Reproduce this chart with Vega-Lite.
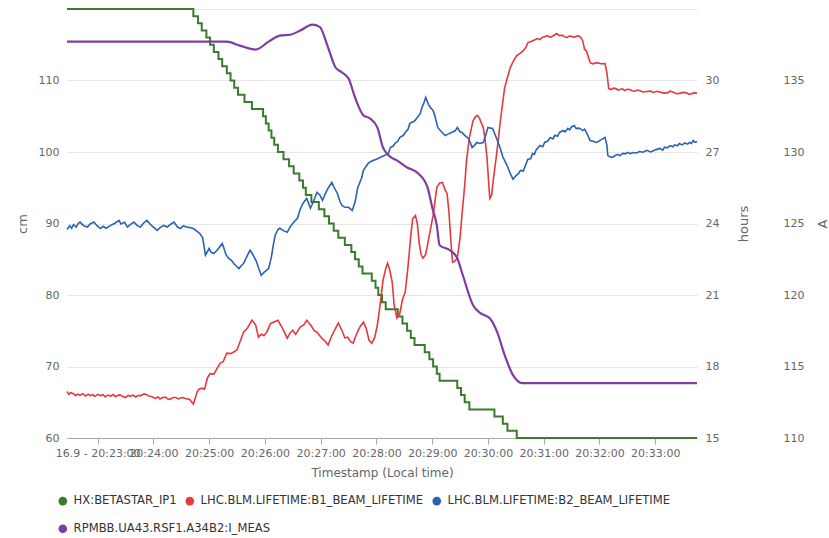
{
  "$schema": "https://vega.github.io/schema/vega-lite/v6.json",
  "width": 630,
  "height": 429,
  "autosize": {"type": "none"},
  "padding": {"left": 67, "top": 9, "right": 132, "bottom": 100},
  "background": "white",
  "config": {
    "view": {"stroke": null},
    "font": "DejaVu Sans",
    "axis": {
      "labelFont": "DejaVu Sans",
      "labelFontSize": 11,
      "labelColor": "#666666",
      "titleFont": "DejaVu Sans",
      "titleFontSize": 12,
      "titleFontWeight": "normal",
      "titleColor": "#666666",
      "gridColor": "#e6e6e6",
      "gridWidth": 1
    },
    "legend": {
      "orient": "none",
      "direction": "horizontal",
      "symbolType": "circle",
      "symbolSize": 75,
      "symbolStrokeWidth": 0,
      "symbolOpacity": 1,
      "labelFont": "DejaVu Sans",
      "labelFontSize": 11.6,
      "labelColor": "#333333",
      "labelLimit": 400,
      "labelOffset": 5,
      "columnPadding": 7,
      "padding": 0
    }
  },
  "datasets": {
    "betastar": [
      {"t": "20:22:27", "v": 120}, {"t": "20:24:43", "v": 119}, {"t": "20:24:48", "v": 118}, {"t": "20:24:52", "v": 117},
      {"t": "20:24:57", "v": 116}, {"t": "20:25:01", "v": 115}, {"t": "20:25:05", "v": 114}, {"t": "20:25:10", "v": 113},
      {"t": "20:25:14", "v": 112}, {"t": "20:25:19", "v": 111}, {"t": "20:25:23", "v": 110}, {"t": "20:25:27", "v": 109},
      {"t": "20:25:31", "v": 108}, {"t": "20:25:38", "v": 107}, {"t": "20:25:46", "v": 106}, {"t": "20:25:58", "v": 105},
      {"t": "20:26:01", "v": 104}, {"t": "20:26:04", "v": 103}, {"t": "20:26:07", "v": 102}, {"t": "20:26:10", "v": 101},
      {"t": "20:26:14", "v": 100}, {"t": "20:26:20", "v": 99}, {"t": "20:26:26", "v": 98}, {"t": "20:26:31", "v": 97},
      {"t": "20:26:37", "v": 96}, {"t": "20:26:41", "v": 95}, {"t": "20:26:44", "v": 94}, {"t": "20:26:50", "v": 93},
      {"t": "20:26:58", "v": 92}, {"t": "20:27:04", "v": 91}, {"t": "20:27:09", "v": 90}, {"t": "20:27:14", "v": 89},
      {"t": "20:27:19", "v": 88}, {"t": "20:27:26", "v": 87}, {"t": "20:27:33", "v": 86}, {"t": "20:27:37", "v": 85},
      {"t": "20:27:41", "v": 84}, {"t": "20:27:45", "v": 83}, {"t": "20:27:55", "v": 82}, {"t": "20:27:59", "v": 81},
      {"t": "20:28:02", "v": 80}, {"t": "20:28:06", "v": 79}, {"t": "20:28:10", "v": 78}, {"t": "20:28:23", "v": 77},
      {"t": "20:28:28", "v": 76}, {"t": "20:28:33", "v": 75}, {"t": "20:28:37", "v": 74}, {"t": "20:28:41", "v": 73},
      {"t": "20:28:52", "v": 72}, {"t": "20:28:57", "v": 71}, {"t": "20:29:01", "v": 70}, {"t": "20:29:05", "v": 69},
      {"t": "20:29:08", "v": 68}, {"t": "20:29:27", "v": 67}, {"t": "20:29:31", "v": 66}, {"t": "20:29:35", "v": 65},
      {"t": "20:29:40", "v": 64}, {"t": "20:30:07", "v": 63}, {"t": "20:30:16", "v": 62}, {"t": "20:30:21", "v": 61},
      {"t": "20:30:31", "v": 60}, {"t": "20:33:45", "v": 60}
    ],
    "b1": [
      {"t": "20:22:27", "v": 16.95}, {"t": "20:22:29", "v": 16.83}, {"t": "20:22:31", "v": 16.9}, {"t": "20:22:34", "v": 16.86},
      {"t": "20:22:36", "v": 16.78}, {"t": "20:22:38", "v": 16.84}, {"t": "20:22:41", "v": 16.8}, {"t": "20:22:44", "v": 16.86},
      {"t": "20:22:47", "v": 16.76}, {"t": "20:22:50", "v": 16.84}, {"t": "20:22:52", "v": 16.78}, {"t": "20:22:55", "v": 16.82},
      {"t": "20:22:57", "v": 16.74}, {"t": "20:23:00", "v": 16.83}, {"t": "20:23:03", "v": 16.78}, {"t": "20:23:06", "v": 16.82},
      {"t": "20:23:08", "v": 16.72}, {"t": "20:23:11", "v": 16.8}, {"t": "20:23:14", "v": 16.76}, {"t": "20:23:17", "v": 16.82},
      {"t": "20:23:19", "v": 16.73}, {"t": "20:23:22", "v": 16.79}, {"t": "20:23:24", "v": 16.81}, {"t": "20:23:27", "v": 16.74},
      {"t": "20:23:30", "v": 16.7}, {"t": "20:23:33", "v": 16.79}, {"t": "20:23:35", "v": 16.75}, {"t": "20:23:38", "v": 16.8},
      {"t": "20:23:41", "v": 16.72}, {"t": "20:23:44", "v": 16.79}, {"t": "20:23:46", "v": 16.77}, {"t": "20:23:50", "v": 16.85},
      {"t": "20:23:53", "v": 16.82}, {"t": "20:23:55", "v": 16.76}, {"t": "20:23:57", "v": 16.75}, {"t": "20:24:00", "v": 16.7},
      {"t": "20:24:02", "v": 16.66}, {"t": "20:24:05", "v": 16.72}, {"t": "20:24:07", "v": 16.64}, {"t": "20:24:10", "v": 16.7},
      {"t": "20:24:13", "v": 16.72}, {"t": "20:24:15", "v": 16.65}, {"t": "20:24:18", "v": 16.62}, {"t": "20:24:21", "v": 16.7},
      {"t": "20:24:24", "v": 16.7}, {"t": "20:24:27", "v": 16.64}, {"t": "20:24:29", "v": 16.68}, {"t": "20:24:32", "v": 16.7},
      {"t": "20:24:34", "v": 16.66}, {"t": "20:24:37", "v": 16.64}, {"t": "20:24:39", "v": 16.62}, {"t": "20:24:43", "v": 16.42},
      {"t": "20:24:47", "v": 16.93}, {"t": "20:24:49", "v": 17.05}, {"t": "20:24:52", "v": 17.09}, {"t": "20:24:55", "v": 17.05},
      {"t": "20:24:58", "v": 17.51}, {"t": "20:25:01", "v": 17.7}, {"t": "20:25:05", "v": 17.68}, {"t": "20:25:09", "v": 17.95},
      {"t": "20:25:12", "v": 18.14}, {"t": "20:25:15", "v": 18.2}, {"t": "20:25:19", "v": 18.56}, {"t": "20:25:23", "v": 18.54},
      {"t": "20:25:26", "v": 18.6}, {"t": "20:25:30", "v": 18.7}, {"t": "20:25:33", "v": 19.02}, {"t": "20:25:37", "v": 19.44},
      {"t": "20:25:41", "v": 19.6}, {"t": "20:25:46", "v": 19.94}, {"t": "20:25:50", "v": 19.75}, {"t": "20:25:53", "v": 19.23},
      {"t": "20:25:56", "v": 19.35}, {"t": "20:25:59", "v": 19.3}, {"t": "20:26:02", "v": 19.44}, {"t": "20:26:06", "v": 19.8},
      {"t": "20:26:09", "v": 19.86}, {"t": "20:26:14", "v": 19.94}, {"t": "20:26:19", "v": 19.6}, {"t": "20:26:24", "v": 19.19},
      {"t": "20:26:27", "v": 19.4}, {"t": "20:26:30", "v": 19.52}, {"t": "20:26:33", "v": 19.35}, {"t": "20:26:38", "v": 19.65},
      {"t": "20:26:42", "v": 19.75}, {"t": "20:26:45", "v": 19.94}, {"t": "20:26:50", "v": 19.7}, {"t": "20:26:53", "v": 19.5},
      {"t": "20:26:56", "v": 19.44}, {"t": "20:27:01", "v": 19.2}, {"t": "20:27:05", "v": 19.05}, {"t": "20:27:08", "v": 18.9},
      {"t": "20:27:12", "v": 19.3}, {"t": "20:27:16", "v": 19.6}, {"t": "20:27:19", "v": 19.82}, {"t": "20:27:23", "v": 19.5},
      {"t": "20:27:26", "v": 19.2}, {"t": "20:27:29", "v": 19.23}, {"t": "20:27:32", "v": 19.05}, {"t": "20:27:35", "v": 18.98},
      {"t": "20:27:38", "v": 19.3}, {"t": "20:27:42", "v": 19.65}, {"t": "20:27:46", "v": 19.86}, {"t": "20:27:49", "v": 19.6},
      {"t": "20:27:52", "v": 19.1}, {"t": "20:27:55", "v": 18.98}, {"t": "20:27:58", "v": 19.2}, {"t": "20:28:01", "v": 19.73},
      {"t": "20:28:04", "v": 20.6}, {"t": "20:28:07", "v": 21.6}, {"t": "20:28:10", "v": 22.1}, {"t": "20:28:12", "v": 22.33},
      {"t": "20:28:14", "v": 22.1}, {"t": "20:28:17", "v": 21.54}, {"t": "20:28:19", "v": 20.6}, {"t": "20:28:22", "v": 20.03},
      {"t": "20:28:25", "v": 20.2}, {"t": "20:28:28", "v": 20.8}, {"t": "20:28:31", "v": 21.12}, {"t": "20:28:34", "v": 22.2},
      {"t": "20:28:37", "v": 23.5}, {"t": "20:28:39", "v": 24.2}, {"t": "20:28:42", "v": 24.34}, {"t": "20:28:44", "v": 24.0},
      {"t": "20:28:46", "v": 23.2}, {"t": "20:28:48", "v": 22.7}, {"t": "20:28:50", "v": 22.54}, {"t": "20:28:53", "v": 22.7},
      {"t": "20:28:56", "v": 23.3}, {"t": "20:29:01", "v": 24.34}, {"t": "20:29:05", "v": 25.52}, {"t": "20:29:08", "v": 25.7},
      {"t": "20:29:11", "v": 25.72}, {"t": "20:29:14", "v": 25.4}, {"t": "20:29:16", "v": 25.26}, {"t": "20:29:18", "v": 24.5},
      {"t": "20:29:19", "v": 23.92}, {"t": "20:29:21", "v": 22.8}, {"t": "20:29:22", "v": 22.37}, {"t": "20:29:24", "v": 22.4},
      {"t": "20:29:27", "v": 22.54}, {"t": "20:29:30", "v": 23.4}, {"t": "20:29:32", "v": 24.34}, {"t": "20:29:35", "v": 25.6},
      {"t": "20:29:37", "v": 26.65}, {"t": "20:29:40", "v": 27.6}, {"t": "20:29:44", "v": 28.32}, {"t": "20:29:47", "v": 28.5},
      {"t": "20:29:49", "v": 28.53}, {"t": "20:29:51", "v": 28.4}, {"t": "20:29:55", "v": 28.03}, {"t": "20:29:57", "v": 27.5},
      {"t": "20:29:59", "v": 26.77}, {"t": "20:30:01", "v": 25.6}, {"t": "20:30:02", "v": 25.05}, {"t": "20:30:04", "v": 25.2},
      {"t": "20:30:06", "v": 25.9}, {"t": "20:30:09", "v": 26.8}, {"t": "20:30:11", "v": 27.48}, {"t": "20:30:14", "v": 28.5},
      {"t": "20:30:18", "v": 29.7}, {"t": "20:30:24", "v": 30.54}, {"t": "20:30:28", "v": 30.85}, {"t": "20:30:31", "v": 31.05},
      {"t": "20:30:35", "v": 31.15}, {"t": "20:30:38", "v": 31.25}, {"t": "20:30:41", "v": 31.4}, {"t": "20:30:43", "v": 31.59},
      {"t": "20:30:47", "v": 31.65}, {"t": "20:30:50", "v": 31.7}, {"t": "20:30:53", "v": 31.76}, {"t": "20:30:56", "v": 31.72},
      {"t": "20:30:58", "v": 31.8}, {"t": "20:31:01", "v": 31.84}, {"t": "20:31:04", "v": 31.88}, {"t": "20:31:07", "v": 31.82},
      {"t": "20:31:09", "v": 31.85}, {"t": "20:31:12", "v": 31.92}, {"t": "20:31:14", "v": 31.97}, {"t": "20:31:17", "v": 31.88},
      {"t": "20:31:20", "v": 31.9}, {"t": "20:31:22", "v": 31.84}, {"t": "20:31:25", "v": 31.8}, {"t": "20:31:28", "v": 31.87},
      {"t": "20:31:30", "v": 31.85}, {"t": "20:31:33", "v": 31.82}, {"t": "20:31:37", "v": 31.88}, {"t": "20:31:40", "v": 31.8},
      {"t": "20:31:42", "v": 31.67}, {"t": "20:31:44", "v": 31.3}, {"t": "20:31:46", "v": 31.25}, {"t": "20:31:50", "v": 30.75},
      {"t": "20:31:53", "v": 30.7}, {"t": "20:31:57", "v": 30.75}, {"t": "20:32:02", "v": 30.7}, {"t": "20:32:06", "v": 30.71},
      {"t": "20:32:08", "v": 30.33}, {"t": "20:32:10", "v": 29.66}, {"t": "20:32:13", "v": 29.62}, {"t": "20:32:15", "v": 29.68},
      {"t": "20:32:18", "v": 29.66}, {"t": "20:32:20", "v": 29.6}, {"t": "20:32:22", "v": 29.62}, {"t": "20:32:25", "v": 29.65},
      {"t": "20:32:27", "v": 29.58}, {"t": "20:32:30", "v": 29.63}, {"t": "20:32:33", "v": 29.62}, {"t": "20:32:35", "v": 29.57},
      {"t": "20:32:38", "v": 29.55}, {"t": "20:32:41", "v": 29.6}, {"t": "20:32:43", "v": 29.58}, {"t": "20:32:47", "v": 29.52},
      {"t": "20:32:51", "v": 29.54}, {"t": "20:32:55", "v": 29.56}, {"t": "20:32:58", "v": 29.5}, {"t": "20:33:02", "v": 29.55},
      {"t": "20:33:05", "v": 29.52}, {"t": "20:33:09", "v": 29.47}, {"t": "20:33:13", "v": 29.48}, {"t": "20:33:16", "v": 29.55},
      {"t": "20:33:19", "v": 29.52}, {"t": "20:33:23", "v": 29.45}, {"t": "20:33:26", "v": 29.46}, {"t": "20:33:30", "v": 29.5},
      {"t": "20:33:34", "v": 29.48}, {"t": "20:33:36", "v": 29.43}, {"t": "20:33:39", "v": 29.44}, {"t": "20:33:42", "v": 29.49},
      {"t": "20:33:45", "v": 29.46}
    ],
    "b2": [
      {"t": "20:22:27", "v": 23.75}, {"t": "20:22:30", "v": 23.9}, {"t": "20:22:32", "v": 23.8}, {"t": "20:22:34", "v": 23.95},
      {"t": "20:22:37", "v": 23.85}, {"t": "20:22:39", "v": 24.0}, {"t": "20:22:41", "v": 24.06}, {"t": "20:22:45", "v": 23.9},
      {"t": "20:22:49", "v": 23.85}, {"t": "20:22:52", "v": 23.98}, {"t": "20:22:56", "v": 24.06}, {"t": "20:22:59", "v": 23.92},
      {"t": "20:23:03", "v": 23.79}, {"t": "20:23:06", "v": 23.88}, {"t": "20:23:09", "v": 23.8}, {"t": "20:23:14", "v": 23.92},
      {"t": "20:23:18", "v": 24.0}, {"t": "20:23:23", "v": 24.13}, {"t": "20:23:25", "v": 23.98}, {"t": "20:23:29", "v": 24.05},
      {"t": "20:23:32", "v": 23.85}, {"t": "20:23:35", "v": 23.95}, {"t": "20:23:39", "v": 24.06}, {"t": "20:23:43", "v": 23.9},
      {"t": "20:23:46", "v": 23.85}, {"t": "20:23:49", "v": 24.0}, {"t": "20:23:53", "v": 24.13}, {"t": "20:23:57", "v": 23.95},
      {"t": "20:24:00", "v": 23.85}, {"t": "20:24:04", "v": 23.71}, {"t": "20:24:07", "v": 23.82}, {"t": "20:24:11", "v": 23.92},
      {"t": "20:24:15", "v": 23.85}, {"t": "20:24:18", "v": 23.95}, {"t": "20:24:22", "v": 24.06}, {"t": "20:24:26", "v": 23.85},
      {"t": "20:24:29", "v": 23.79}, {"t": "20:24:32", "v": 23.9}, {"t": "20:24:36", "v": 23.85}, {"t": "20:24:40", "v": 23.82},
      {"t": "20:24:43", "v": 23.79}, {"t": "20:24:46", "v": 23.7}, {"t": "20:24:50", "v": 23.58}, {"t": "20:24:53", "v": 23.4},
      {"t": "20:24:56", "v": 22.67}, {"t": "20:25:00", "v": 22.95}, {"t": "20:25:02", "v": 22.8}, {"t": "20:25:05", "v": 22.74},
      {"t": "20:25:09", "v": 22.9}, {"t": "20:25:14", "v": 23.16}, {"t": "20:25:16", "v": 22.95}, {"t": "20:25:18", "v": 22.7},
      {"t": "20:25:21", "v": 22.53}, {"t": "20:25:24", "v": 22.45}, {"t": "20:25:27", "v": 22.3}, {"t": "20:25:32", "v": 22.11},
      {"t": "20:25:35", "v": 22.25}, {"t": "20:25:37", "v": 22.32}, {"t": "20:25:41", "v": 22.65}, {"t": "20:25:44", "v": 22.88},
      {"t": "20:25:47", "v": 22.7}, {"t": "20:25:51", "v": 22.39}, {"t": "20:25:53", "v": 22.15}, {"t": "20:25:56", "v": 21.83},
      {"t": "20:25:59", "v": 21.95}, {"t": "20:26:04", "v": 22.11}, {"t": "20:26:07", "v": 22.6}, {"t": "20:26:09", "v": 23.09},
      {"t": "20:26:11", "v": 23.5}, {"t": "20:26:14", "v": 23.75}, {"t": "20:26:16", "v": 23.8}, {"t": "20:26:20", "v": 23.7},
      {"t": "20:26:24", "v": 23.63}, {"t": "20:26:27", "v": 23.85}, {"t": "20:26:30", "v": 24.01}, {"t": "20:26:35", "v": 24.22},
      {"t": "20:26:38", "v": 24.6}, {"t": "20:26:41", "v": 24.85}, {"t": "20:26:45", "v": 25.05}, {"t": "20:26:49", "v": 24.64},
      {"t": "20:26:52", "v": 24.9}, {"t": "20:26:56", "v": 25.31}, {"t": "20:26:59", "v": 25.2}, {"t": "20:27:02", "v": 24.97},
      {"t": "20:27:05", "v": 25.25}, {"t": "20:27:08", "v": 25.48}, {"t": "20:27:12", "v": 25.72}, {"t": "20:27:14", "v": 25.55},
      {"t": "20:27:18", "v": 25.26}, {"t": "20:27:21", "v": 24.9}, {"t": "20:27:23", "v": 24.76}, {"t": "20:27:26", "v": 24.68},
      {"t": "20:27:30", "v": 24.68}, {"t": "20:27:34", "v": 24.55}, {"t": "20:27:37", "v": 24.9}, {"t": "20:27:40", "v": 25.52},
      {"t": "20:27:44", "v": 25.9}, {"t": "20:27:46", "v": 26.23}, {"t": "20:27:49", "v": 26.4}, {"t": "20:27:51", "v": 26.52},
      {"t": "20:27:54", "v": 26.6}, {"t": "20:27:57", "v": 26.65}, {"t": "20:28:00", "v": 26.7}, {"t": "20:28:04", "v": 26.77},
      {"t": "20:28:09", "v": 26.86}, {"t": "20:28:13", "v": 26.95}, {"t": "20:28:15", "v": 27.19}, {"t": "20:28:18", "v": 27.25},
      {"t": "20:28:20", "v": 27.36}, {"t": "20:28:23", "v": 27.45}, {"t": "20:28:25", "v": 27.61}, {"t": "20:28:29", "v": 27.7},
      {"t": "20:28:31", "v": 27.82}, {"t": "20:28:34", "v": 27.95}, {"t": "20:28:36", "v": 28.2}, {"t": "20:28:41", "v": 28.3},
      {"t": "20:28:44", "v": 28.45}, {"t": "20:28:47", "v": 28.6}, {"t": "20:28:49", "v": 28.87}, {"t": "20:28:51", "v": 29.05},
      {"t": "20:28:53", "v": 29.29}, {"t": "20:28:56", "v": 29.0}, {"t": "20:28:58", "v": 28.87}, {"t": "20:29:01", "v": 28.74},
      {"t": "20:29:03", "v": 28.5}, {"t": "20:29:06", "v": 28.03}, {"t": "20:29:10", "v": 27.85}, {"t": "20:29:14", "v": 27.69},
      {"t": "20:29:17", "v": 27.75}, {"t": "20:29:21", "v": 27.82}, {"t": "20:29:25", "v": 27.9}, {"t": "20:29:27", "v": 28.03},
      {"t": "20:29:30", "v": 27.85}, {"t": "20:29:32", "v": 27.82}, {"t": "20:29:35", "v": 27.7}, {"t": "20:29:39", "v": 27.57},
      {"t": "20:29:41", "v": 27.4}, {"t": "20:29:43", "v": 27.19}, {"t": "20:29:46", "v": 27.3}, {"t": "20:29:48", "v": 27.4},
      {"t": "20:29:51", "v": 27.36}, {"t": "20:29:55", "v": 27.4}, {"t": "20:29:58", "v": 27.75}, {"t": "20:30:00", "v": 28.03},
      {"t": "20:30:03", "v": 28.0}, {"t": "20:30:05", "v": 27.99}, {"t": "20:30:09", "v": 27.6}, {"t": "20:30:13", "v": 27.19},
      {"t": "20:30:16", "v": 26.8}, {"t": "20:30:21", "v": 26.4}, {"t": "20:30:24", "v": 26.1}, {"t": "20:30:27", "v": 25.86},
      {"t": "20:30:30", "v": 26.0}, {"t": "20:30:33", "v": 26.1}, {"t": "20:30:35", "v": 26.23}, {"t": "20:30:38", "v": 26.2},
      {"t": "20:30:40", "v": 26.4}, {"t": "20:30:43", "v": 26.7}, {"t": "20:30:46", "v": 26.72}, {"t": "20:30:48", "v": 26.94},
      {"t": "20:30:50", "v": 26.9}, {"t": "20:30:52", "v": 27.1}, {"t": "20:30:56", "v": 27.27}, {"t": "20:30:59", "v": 27.22},
      {"t": "20:31:01", "v": 27.4}, {"t": "20:31:04", "v": 27.45}, {"t": "20:31:07", "v": 27.61}, {"t": "20:31:10", "v": 27.55},
      {"t": "20:31:12", "v": 27.7}, {"t": "20:31:15", "v": 27.66}, {"t": "20:31:17", "v": 27.82}, {"t": "20:31:21", "v": 27.9},
      {"t": "20:31:23", "v": 27.84}, {"t": "20:31:26", "v": 27.99}, {"t": "20:31:28", "v": 27.93}, {"t": "20:31:30", "v": 28.05},
      {"t": "20:31:33", "v": 28.11}, {"t": "20:31:35", "v": 27.98}, {"t": "20:31:37", "v": 28.0}, {"t": "20:31:39", "v": 27.99},
      {"t": "20:31:42", "v": 27.9}, {"t": "20:31:44", "v": 27.96}, {"t": "20:31:46", "v": 27.82}, {"t": "20:31:50", "v": 27.48},
      {"t": "20:31:53", "v": 27.45}, {"t": "20:31:57", "v": 27.4}, {"t": "20:32:01", "v": 27.5}, {"t": "20:32:06", "v": 27.61},
      {"t": "20:32:08", "v": 27.3}, {"t": "20:32:09", "v": 26.86}, {"t": "20:32:11", "v": 26.8}, {"t": "20:32:14", "v": 26.77},
      {"t": "20:32:17", "v": 26.85}, {"t": "20:32:20", "v": 26.9}, {"t": "20:32:22", "v": 26.84}, {"t": "20:32:25", "v": 26.94},
      {"t": "20:32:28", "v": 26.92}, {"t": "20:32:30", "v": 26.98}, {"t": "20:32:33", "v": 26.93}, {"t": "20:32:36", "v": 26.98},
      {"t": "20:32:40", "v": 26.96}, {"t": "20:32:43", "v": 27.02}, {"t": "20:32:47", "v": 26.99}, {"t": "20:32:51", "v": 27.07},
      {"t": "20:32:55", "v": 27.0}, {"t": "20:32:58", "v": 27.05}, {"t": "20:33:01", "v": 27.1}, {"t": "20:33:05", "v": 27.15},
      {"t": "20:33:08", "v": 27.08}, {"t": "20:33:10", "v": 27.2}, {"t": "20:33:13", "v": 27.17}, {"t": "20:33:16", "v": 27.27},
      {"t": "20:33:19", "v": 27.22}, {"t": "20:33:21", "v": 27.3}, {"t": "20:33:24", "v": 27.26}, {"t": "20:33:26", "v": 27.36},
      {"t": "20:33:29", "v": 27.3}, {"t": "20:33:32", "v": 27.38}, {"t": "20:33:35", "v": 27.33}, {"t": "20:33:37", "v": 27.4},
      {"t": "20:33:39", "v": 27.36}, {"t": "20:33:41", "v": 27.48}, {"t": "20:33:43", "v": 27.41}, {"t": "20:33:45", "v": 27.44}
    ],
    "imeas": [
      {"t": "20:22:27", "v": 137.72}, {"t": "20:25:19", "v": 137.72}, {"t": "20:25:33", "v": 137.44}, {"t": "20:25:50", "v": 137.16},
      {"t": "20:26:04", "v": 137.72}, {"t": "20:26:16", "v": 138.14}, {"t": "20:26:27", "v": 138.2}, {"t": "20:26:38", "v": 138.49},
      {"t": "20:26:51", "v": 138.91}, {"t": "20:26:59", "v": 138.75}, {"t": "20:27:08", "v": 137.3}, {"t": "20:27:16", "v": 135.91},
      {"t": "20:27:23", "v": 135.56}, {"t": "20:27:30", "v": 135.14}, {"t": "20:27:37", "v": 133.81}, {"t": "20:27:46", "v": 132.56},
      {"t": "20:27:53", "v": 132.35}, {"t": "20:28:01", "v": 131.72}, {"t": "20:28:07", "v": 130.32}, {"t": "20:28:13", "v": 129.77},
      {"t": "20:28:22", "v": 129.41}, {"t": "20:28:33", "v": 128.92}, {"t": "20:28:45", "v": 128.5}, {"t": "20:28:55", "v": 127.53},
      {"t": "20:29:00", "v": 126.13}, {"t": "20:29:05", "v": 124.87}, {"t": "20:29:08", "v": 123.48}, {"t": "20:29:19", "v": 123.13},
      {"t": "20:29:27", "v": 122.57}, {"t": "20:29:33", "v": 121.38}, {"t": "20:29:44", "v": 119.29}, {"t": "20:29:52", "v": 118.73},
      {"t": "20:30:02", "v": 118.38}, {"t": "20:30:10", "v": 117.4}, {"t": "20:30:18", "v": 115.8}, {"t": "20:30:27", "v": 114.4},
      {"t": "20:30:37", "v": 113.84}, {"t": "20:33:45", "v": 113.84}
    ]
  },
  "encoding": {
    "x": {
      "field": "t",
      "type": "temporal",
      "scale": {
        "domain": [
          {"year": 1900, "month": 1, "date": 1, "hours": 20, "minutes": 22, "seconds": 27},
          {"year": 1900, "month": 1, "date": 1, "hours": 20, "minutes": 33, "seconds": 45}
        ],
        "nice": false
      },
      "axis": {
        "orient": "bottom",
        "values": [
          {"year": 1900, "month": 1, "date": 1, "hours": 20, "minutes": 23},
          {"year": 1900, "month": 1, "date": 1, "hours": 20, "minutes": 24},
          {"year": 1900, "month": 1, "date": 1, "hours": 20, "minutes": 25},
          {"year": 1900, "month": 1, "date": 1, "hours": 20, "minutes": 26},
          {"year": 1900, "month": 1, "date": 1, "hours": 20, "minutes": 27},
          {"year": 1900, "month": 1, "date": 1, "hours": 20, "minutes": 28},
          {"year": 1900, "month": 1, "date": 1, "hours": 20, "minutes": 29},
          {"year": 1900, "month": 1, "date": 1, "hours": 20, "minutes": 30},
          {"year": 1900, "month": 1, "date": 1, "hours": 20, "minutes": 31},
          {"year": 1900, "month": 1, "date": 1, "hours": 20, "minutes": 32},
          {"year": 1900, "month": 1, "date": 1, "hours": 20, "minutes": 33}
        ],
        "labelExpr": "(minutes(datum.value) == 23 ? '16.9 - ' : '') + timeFormat(datum.value, '%H:%M:%S')",
        "labelOverlap": false,
        "labelFlush": false,
        "grid": false,
        "domainColor": "#aaaaaa",
        "tickColor": "#aaaaaa",
        "tickSize": 6,
        "labelPadding": 3,
        "title": "Timestamp (Local time)",
        "titleY": 34,
        "titleBaseline": "middle"
      }
    }
  },
  "layer": [
    {
      "data": {"name": "betastar", "format": {"parse": {"t": "date:'%H:%M:%S'"}}},
      "mark": {"type": "line", "interpolate": "step-after", "strokeWidth": 2},
      "encoding": {
        "y": {
          "field": "v",
          "type": "quantitative",
          "scale": {"domain": [60, 120], "nice": false, "zero": false},
          "axis": {
            "orient": "left",
            "values": [60, 70, 80, 90, 100, 110, 120],
            "labelExpr": "datum.value == 120 ? '' : datum.label",
            "grid": true,
            "domain": false,
            "ticks": false,
            "labelPadding": 8,
            "title": "cm",
            "titleFontSize": 13,
            "titleAngle": 270,
            "titleX": -45,
            "titleY": 214.5,
            "titleAlign": "center",
            "titleBaseline": "middle"
          }
        },
        "color": {
          "datum": "HX:BETASTAR_IP1",
          "type": "nominal",
          "scale": {
            "domain": ["HX:BETASTAR_IP1", "LHC.BLM.LIFETIME:B1_BEAM_LIFETIME", "LHC.BLM.LIFETIME:B2_BEAM_LIFETIME"],
            "range": ["#3b7b2e", "#e6383e", "#2a62b2"]
          },
          "legend": {
            "title": null,
            "values": ["HX:BETASTAR_IP1", "LHC.BLM.LIFETIME:B1_BEAM_LIFETIME", "LHC.BLM.LIFETIME:B2_BEAM_LIFETIME"],
            "legendX": -10,
            "legendY": 486,
            "encode": {
              "symbols": {"update": {"fill": {"scale": "color", "field": "value"}, "stroke": {"value": "transparent"}}}
            }
          }
        }
      }
    },
    {
      "data": {"name": "b1", "format": {"parse": {"t": "date:'%H:%M:%S'"}}},
      "mark": {"type": "line", "strokeWidth": 1.6},
      "encoding": {
        "y": {
          "field": "v",
          "type": "quantitative",
          "scale": {"domain": [15, 33], "nice": false, "zero": false},
          "axis": {
            "orient": "right",
            "values": [15, 18, 21, 24, 27, 30, 33],
            "labelExpr": "datum.value == 33 ? '' : datum.label",
            "grid": false,
            "domain": false,
            "ticks": false,
            "labelPadding": 8,
            "title": "hours",
            "titleFontSize": 13,
            "titleAngle": 270,
            "titleX": 46,
            "titleY": 214.5,
            "titleAlign": "center",
            "titleBaseline": "middle"
          }
        },
        "color": {"datum": "LHC.BLM.LIFETIME:B1_BEAM_LIFETIME", "type": "nominal"}
      }
    },
    {
      "data": {"name": "b2", "format": {"parse": {"t": "date:'%H:%M:%S'"}}},
      "mark": {"type": "line", "strokeWidth": 1.6},
      "encoding": {
        "y": {
          "field": "v",
          "type": "quantitative",
          "scale": {"domain": [15, 33], "nice": false, "zero": false},
          "axis": null
        },
        "color": {"datum": "LHC.BLM.LIFETIME:B2_BEAM_LIFETIME", "type": "nominal"}
      }
    },
    {
      "data": {"name": "imeas", "format": {"parse": {"t": "date:'%H:%M:%S'"}}},
      "mark": {"type": "line", "interpolate": "monotone", "strokeWidth": 2.2},
      "encoding": {
        "y": {
          "field": "v",
          "type": "quantitative",
          "scale": {"domain": [110, 140], "nice": false, "zero": false},
          "axis": {
            "orient": "right",
            "offset": 78,
            "values": [110, 115, 120, 125, 130, 135, 140],
            "labelExpr": "datum.value == 140 ? '' : datum.label",
            "grid": false,
            "domain": false,
            "ticks": false,
            "labelPadding": 8,
            "title": "A",
            "titleFontSize": 13,
            "titleAngle": 270,
            "titleX": 47,
            "titleY": 214.5,
            "titleAlign": "center",
            "titleBaseline": "middle"
          }
        },
        "stroke": {
          "datum": "RPMBB.UA43.RSF1.A34B2:I_MEAS",
          "type": "nominal",
          "scale": {"domain": ["RPMBB.UA43.RSF1.A34B2:I_MEAS"], "range": ["#7e3ea0"]},
          "legend": {
            "title": null,
            "legendX": -10,
            "legendY": 514,
            "encode": {
              "symbols": {"update": {"fill": {"scale": "stroke", "field": "value"}, "stroke": {"value": "transparent"}}}
            }
          }
        }
      }
    }
  ],
  "resolve": {"scale": {"y": "independent"}, "axis": {"y": "independent"}}
}
